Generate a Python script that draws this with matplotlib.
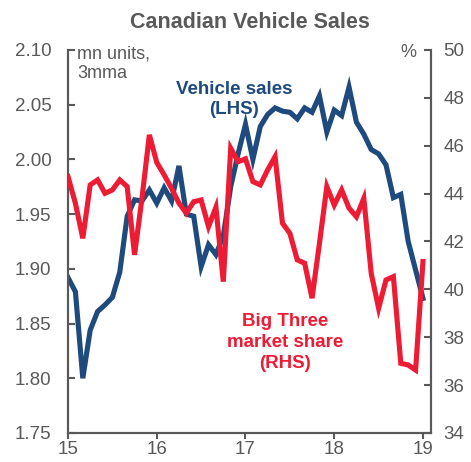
import numpy as np
import pandas as pd
import matplotlib
matplotlib.use("Agg")
import matplotlib.pyplot as plt

plt.rcParams['font.family'] = ['Liberation Sans', 'DejaVu Sans']

# monthly, Jan 2015 .. Jan 2019
dates = pd.date_range('2015-01-01', '2019-01-01', freq='MS')

vehicle_sales = [1.892, 1.879, 1.800, 1.844, 1.861, 1.867, 1.874, 1.897, 1.948, 1.963,
                 1.962, 1.972, 1.960, 1.974, 1.962, 1.994, 1.950, 1.948, 1.902, 1.922,
                 1.913, 1.930, 1.975, 2.005, 2.032, 2.000, 2.030, 2.041, 2.047, 2.044,
                 2.043, 2.037, 2.047, 2.043, 2.058, 2.025, 2.045, 2.040, 2.066, 2.034,
                 2.023, 2.009, 2.005, 1.995, 1.965, 1.968, 1.925, 1.899, 1.873]

big_three_share = [44.71, 43.59, 42.13, 44.36, 44.57, 44.01, 44.15, 44.57, 44.29, 41.44,
                   43.80, 46.45, 45.30, 44.78, 44.22, 43.60, 43.18, 43.66, 43.73, 42.62,
                   43.43, 40.32, 45.89, 45.33, 45.45, 44.50, 44.36, 44.99, 45.54, 42.76,
                   42.34, 41.23, 41.09, 39.63, 41.92, 44.29, 43.52, 44.15, 43.39, 43.03,
                   43.80, 40.67, 39.21, 40.39, 40.53, 36.91, 36.84, 36.63, 41.16]

# fractional year, e.g. 15.0 = Jan 2015
xs = (dates.year - 2000) + (dates.month - 1) / 12.0

gray = '#595959'
blue = '#1f4a7e'
red = '#ee1b35'

fig = plt.figure(figsize=(4.71, 4.62), dpi=100)
ax = fig.add_axes([0.1444, 0.0628, 0.7706, 0.8292])
ax2 = ax.twinx()

ax.plot(xs, vehicle_sales, color=blue, lw=3.7, solid_joinstyle='miter', zorder=2)
ax2.plot(xs, big_three_share, color=red, lw=3.7, solid_joinstyle='miter', zorder=3)

ax.set_xlim(15, 19.09)
ax.set_ylim(1.75, 2.10)
ax2.set_ylim(34, 50)
ax.set_xticks([15, 16, 17, 18, 19])
ax.set_yticks(np.arange(1.75, 2.101, 0.05))
ax2.set_yticks(np.arange(34, 50.1, 2))
ax.set_yticklabels(['%.2f' % v for v in np.arange(1.75, 2.101, 0.05)])

for a in (ax, ax2):
    a.spines['top'].set_visible(False)
    for s in ('left', 'right', 'bottom'):
        a.spines[s].set_color(gray)
        a.spines[s].set_linewidth(1.5)
    a.tick_params(axis='y', direction='in', length=5, width=1.5, color=gray,
                  labelcolor=gray, labelsize=13.5, pad=12)
ax.tick_params(axis='x', direction='out', length=4, width=1.5, color=gray,
               labelcolor=gray, labelsize=13.5, pad=2)
ax2.tick_params(axis='y', pad=9)

ax.set_title('Canadian Vehicle Sales', fontsize=15.5, fontweight='bold', color=gray, pad=16)

ax.text(15.1, 2.104, 'mn units,\n3mma', fontsize=13, color=gray, va='top', ha='left',
        linespacing=1.2)
ax2.text(18.93, 49.9, '%', fontsize=13, color=gray, va='center', ha='right')

ax.text(16.87, 2.072, 'Vehicle sales\n(LHS)', fontsize=13.5, fontweight='bold', color=blue,
        ha='center', va='top', linespacing=1.3)
ax2.text(17.45, 39.0, 'Big Three\nmarket share\n(RHS)', fontsize=13.5, fontweight='bold',
         color=red, ha='center', va='top', linespacing=1.3)

fig.savefig('out.png', dpi=100)
